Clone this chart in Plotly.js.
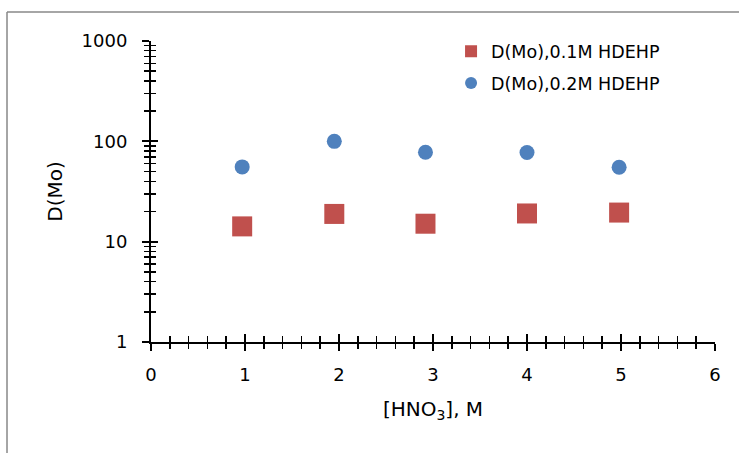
<!DOCTYPE html>
<html>
<head>
<meta charset="utf-8">
<script src="https://cdn.plot.ly/plotly-3.0.1.min.js"></script>
<style>
  html, body { margin: 0; padding: 0; background: #ffffff; }
  #chart { width: 739px; height: 453px; }
</style>
</head>
<body>
<div id="chart"></div>
<script>
// HNO3 concentration (M)
const hno3 = [0.97, 1.95, 2.92, 4.0, 4.98];
// D(Mo) values
const dMo01 = [14.2, 18.9, 15.1, 19.1, 19.5];
const dMo02 = [55.6, 100, 77.9, 77.3, 55.2];
const seriesNames = ['D(Mo),0.1M HDEHP', 'D(Mo),0.2M HDEHP'];
const yMajorTicks = [1, 10, 100, 1000];
const yMinorTicks = [2,3,4,5,6,7,8,9,20,30,40,50,60,70,80,90,200,300,400,500,600,700,800,900];
const xTicks = [0, 1, 2, 3, 4, 5, 6];

const FONT = 'DejaVu Sans';

const traces = [
  {
    x: hno3, y: dMo01, name: seriesNames[0], type: 'scatter', mode: 'markers',
    legendgroup: 'a',
    marker: { symbol: 'square', size: 20, color: '#C0504D' }
  },
  {
    x: hno3, y: dMo02, name: seriesNames[1], type: 'scatter', mode: 'markers',
    xaxis: 'x2', yaxis: 'y2',
    legendgroup: 'b',
    marker: { symbol: 'circle', size: 15, color: '#4F81BD' }
  }
];

const axBase = { showgrid: false, zeroline: false };

const layout = {
  width: 739, height: 453,
  margin: { l: 151, r: 24, t: 41, b: 111, pad: 0 },
  paper_bgcolor: '#ffffff', plot_bgcolor: '#ffffff',
  font: { family: FONT, size: 18, color: '#000000' },
  showlegend: true,
  legend: {
    x: 0.532, y: 1.025, xanchor: 'left', yanchor: 'top',
    bgcolor: 'rgba(0,0,0,0)', borderwidth: 0,
    font: { family: FONT, size: 17.5, color: '#000000' },
    traceorder: 'grouped', tracegroupgap: 6, itemsizing: 'constant'
  },
  xaxis: Object.assign({}, axBase, {
    range: [0, 6], tickmode: 'array', tickvals: xTicks,
    showline: true, linecolor: '#000000', linewidth: 2,
    ticks: 'outside', ticklen: 7, tickwidth: 2, tickcolor: '#000000',
    minor: { dtick: 0.2, tick0: 0, ticks: 'outside', ticklen: 5, tickwidth: 1.5, tickcolor: '#000000', showgrid: false },
    tickfont: { family: FONT, size: 18, color: '#000000' },
    ticklabelstandoff: 8,
    automargin: false,
    title: { text: '[HNO<sub>3</sub>], M', font: { family: FONT, size: 20, color: '#000000' }, standoff: 18 }
  }),
  xaxis2: Object.assign({}, axBase, {
    range: [0, 6], overlaying: 'x', anchor: 'y2', tickmode: 'array', tickvals: xTicks,
    showline: false, showticklabels: false,
    ticks: 'inside', ticklen: 8, tickwidth: 2, tickcolor: '#000000',
    minor: { dtick: 0.2, tick0: 0, ticks: 'inside', ticklen: 6, tickwidth: 1.5, tickcolor: '#000000', showgrid: false }
  }),
  yaxis: Object.assign({}, axBase, {
    type: 'log', range: [0, 3], tickmode: 'array', tickvals: yMajorTicks,
    ticktext: yMajorTicks.map(String),
    showline: true, linecolor: '#000000', linewidth: 2,
    ticks: 'outside', ticklen: 7, tickwidth: 2, tickcolor: '#000000',
    minor: { tickmode: 'array', tickvals: yMinorTicks, ticks: 'outside', ticklen: 5, tickwidth: 1.5, tickcolor: '#000000', showgrid: false },
    tickfont: { family: FONT, size: 18, color: '#000000' },
    ticklabelstandoff: 11,
    automargin: false,
    title: { text: 'D(Mo)', font: { family: FONT, size: 20, color: '#000000' }, standoff: 14 }
  }),
  yaxis2: Object.assign({}, axBase, {
    type: 'log', range: [0, 3], overlaying: 'y', anchor: 'x2', side: 'left',
    tickmode: 'array', tickvals: yMajorTicks,
    showline: false, showticklabels: false,
    ticks: 'inside', ticklen: 7, tickwidth: 2, tickcolor: '#000000',
    minor: { tickmode: 'array', tickvals: yMinorTicks, ticks: 'inside', ticklen: 5, tickwidth: 1.5, tickcolor: '#000000', showgrid: false }
  }),
  shapes: [
    { type: 'line', xref: 'paper', yref: 'paper', x0: -0.2553, x1: 1.05, y0: 1.0963, y1: 1.0963,
      line: { color: '#888888', width: 1.5 } },
    { type: 'line', xref: 'paper', yref: 'paper', x0: -0.2553, x1: -0.2553, y0: -0.38, y1: 1.0963,
      line: { color: '#888888', width: 1.5 } }
  ]
};

Plotly.newPlot('chart', traces, layout, { displayModeBar: false, staticPlot: true });
</script>
</body>
</html>
